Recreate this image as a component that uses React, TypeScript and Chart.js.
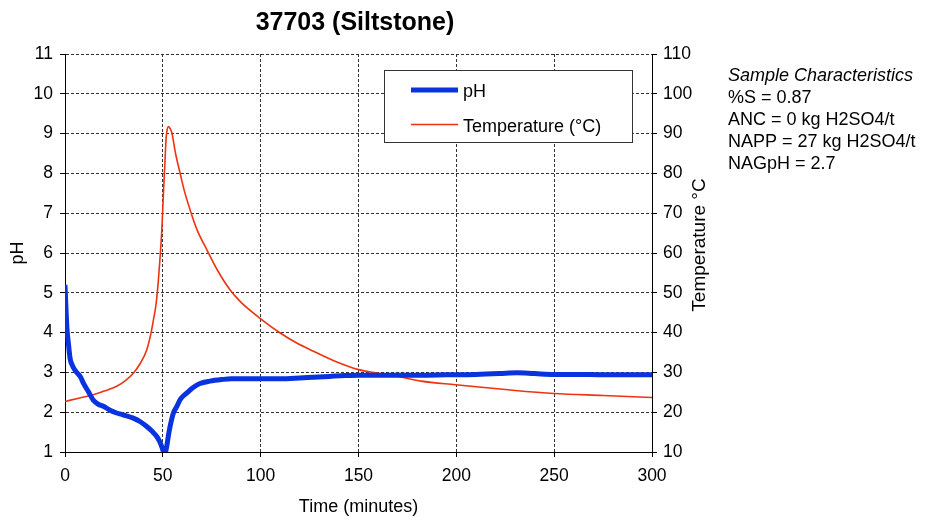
import { useEffect, useRef } from 'react';
import { Chart, registerables } from 'chart.js';

Chart.register(...registerables);

const FONT = "'Liberation Sans', Arial, sans-serif";

const chartTitle = '37703 (Siltstone)';
const xAxisTitle = 'Time (minutes)';
const leftAxisTitle = 'pH';
const rightAxisTitle = 'Temperature °C';
const phSeriesLabel = 'pH';
const tempSeriesLabel = 'Temperature (°C)';
const sampleHeading = 'Sample Characteristics';
const sampleLines = ['%S = 0.87', 'ANC = 0 kg H2SO4/t', 'NAPP = 27 kg H2SO4/t', 'NAGpH = 2.7'];

// pH series (time in minutes, pH)
const phTime = [0, 0.5, 1, 1.8, 2.6, 4, 6, 8, 9.4, 11.9, 14.5, 17, 19.6, 23, 26.4, 30, 34.9, 38.5, 41.8, 44.5, 46.9, 48.3, 49.4, 50.2, 50.7, 51.3, 52, 52.8, 53.7, 55.4, 57.1, 59, 62.2, 65.5, 69, 74, 80, 85, 90, 100, 110, 120, 127, 135, 143, 150, 160, 170, 182, 195, 210, 222, 231, 240, 250, 262, 275, 288, 300];
const phValues = [5.2, 4.6, 4.1, 3.7, 3.35, 3.15, 3.0, 2.88, 2.73, 2.52, 2.3, 2.2, 2.15, 2.05, 1.98, 1.93, 1.85, 1.76, 1.64, 1.52, 1.39, 1.27, 1.14, 1.02, 0.95, 0.98, 1.14, 1.4, 1.64, 1.98, 2.14, 2.33, 2.48, 2.62, 2.72, 2.78, 2.82, 2.84, 2.84, 2.84, 2.84, 2.86, 2.88, 2.9, 2.92, 2.93, 2.93, 2.93, 2.93, 2.94, 2.95, 2.97, 2.99, 2.97, 2.95, 2.95, 2.94, 2.94, 2.94];

// Temperature series (time in minutes, °C)
const tempTime = [0, 7, 14.5, 20, 26.4, 31, 34.9, 38.5, 41.8, 44, 45.2, 46.5, 47.7, 48.6, 49.5, 50.3, 51, 51.7, 52.3, 52.9, 53.6, 54.6, 56.5, 58.8, 61, 63.9, 67.5, 72.5, 78, 84.4, 90, 99.7, 110, 118, 127, 138, 150, 160, 171, 182, 199.5, 225, 250, 275, 300];
const tempValues = [22.7, 23.5, 24.4, 25.3, 26.5, 28, 29.8, 32.3, 35.7, 40, 43.2, 47, 53, 59, 66, 75, 82, 89, 91.2, 91.8, 91.4, 90.2, 85, 80.1, 75.6, 70.9, 65.8, 60.8, 55.6, 50.7, 47.6, 43.6, 39.9, 37.5, 35.3, 32.8, 30.7, 29.8, 28.9, 27.8, 26.9, 25.7, 24.7, 24.2, 23.7];

const xTicks = [0, 50, 100, 150, 200, 250, 300];
const phRange = [1, 11];
const tempRange = [10, 110];

const BLUE = '#0a33e0';
const RED = '#ee3311';

const overlayPlugin = {
  id: 'overlay',
  afterDraw(chart: any) {
    const ctx = chart.ctx as CanvasRenderingContext2D;
    ctx.save();
    // Title
    ctx.fillStyle = '#000';
    ctx.font = `bold 25px ${FONT}`;
    ctx.textAlign = 'center';
    ctx.textBaseline = 'alphabetic';
    ctx.fillText(chartTitle, 355, 29.5);

    // Legend box
    ctx.fillStyle = '#fff';
    ctx.fillRect(384, 70, 248, 72);
    ctx.strokeStyle = '#333';
    ctx.lineWidth = 1;
    ctx.strokeRect(384.5, 70.5, 248, 72);
    ctx.lineCap = 'butt';
    ctx.strokeStyle = BLUE;
    ctx.lineWidth = 5;
    ctx.beginPath();
    ctx.moveTo(411, 90);
    ctx.lineTo(458, 90);
    ctx.stroke();
    ctx.strokeStyle = RED;
    ctx.lineWidth = 1.5;
    ctx.beginPath();
    ctx.moveTo(411, 124.5);
    ctx.lineTo(458, 124.5);
    ctx.stroke();
    ctx.fillStyle = '#000';
    ctx.font = `18px ${FONT}`;
    ctx.textAlign = 'left';
    ctx.fillText(phSeriesLabel, 463, 97);
    ctx.fillText(tempSeriesLabel, 463, 132);

    // Sample characteristics
    ctx.font = `italic 18px ${FONT}`;
    ctx.fillText(sampleHeading, 728, 80.5);
    ctx.font = `18px ${FONT}`;
    sampleLines.forEach((t, i) => ctx.fillText(t, 728, 103 + i * 22));

    // Right axis title (reads bottom to top)
    ctx.font = `19px ${FONT}`;
    ctx.translate(700, 245);
    ctx.rotate(-Math.PI / 2);
    ctx.textAlign = 'center';
    ctx.textBaseline = 'middle';
    ctx.fillText(rightAxisTitle, 0, 0);
    ctx.restore();
  },
};

export default function App() {
  const ref = useRef<HTMLCanvasElement | null>(null);
  useEffect(() => {
    if (!ref.current) return;
    const phData = phTime.map((x, i) => ({ x, y: phValues[i] }));
    const tempData = tempTime.map((x, i) => ({ x, y: tempValues[i] }));
    const tickFont = { family: FONT, size: 17.5 };
    const gridOpts = {
      color: '#333',
      tickBorderDash: [],
      tickColor: '#000',
      tickLength: 5,
    } as any;
    const chart = new Chart(ref.current, {
      type: 'line',
      data: {
        datasets: [
          {
            label: tempSeriesLabel,
            data: tempData,
            yAxisID: 'yT',
            borderColor: RED,
            backgroundColor: RED,
            borderWidth: 1.6,
            pointRadius: 0,
            cubicInterpolationMode: 'monotone',
            order: 2,
          },
          {
            label: phSeriesLabel,
            data: phData,
            yAxisID: 'y',
            borderColor: BLUE,
            backgroundColor: BLUE,
            borderWidth: 5,
            pointRadius: 0,
            cubicInterpolationMode: 'monotone',
            order: 1,
          },
        ],
      },
      options: {
        animation: false,
        responsive: false,
        events: [],
        layout: { padding: { top: 54, right: 214, bottom: 0, left: 0 } },
        plugins: { legend: { display: false }, tooltip: { enabled: false }, title: { display: false } },
        scales: {
          x: {
            type: 'linear',
            min: 0,
            max: 300,
            afterBuildTicks: (s: any) => { s.ticks = xTicks.map((v) => ({ value: v })); },
            afterFit: (s: any) => { s.height = 69; },
            ticks: { font: tickFont, color: '#000', padding: 9, maxRotation: 0 },
            grid: gridOpts,
            border: { color: '#000', width: 1, dash: [3, 2] } as any,
            title: { display: true, text: xAxisTitle, font: { family: FONT, size: 18 }, color: '#000', padding: { top: 0, bottom: 3 } },
          },
          y: {
            type: 'linear',
            position: 'left',
            min: phRange[0],
            max: phRange[1],
            ticks: { stepSize: 1, font: tickFont, color: '#000', padding: 7 },
            afterFit: (s: any) => { s.width = 65; },
            grid: gridOpts,
            border: { color: '#000', width: 1, dash: [3, 2] } as any,
            title: { display: true, text: leftAxisTitle, font: { family: FONT, size: 18 }, color: '#000', padding: { top: 7, bottom: 0 } },
          },
          yT: {
            type: 'linear',
            position: 'right',
            min: tempRange[0],
            max: tempRange[1],
            ticks: { stepSize: 10, font: tickFont, color: '#000', padding: 6 },
            afterFit: (s: any) => { s.width = 60; },
            grid: { drawOnChartArea: false, tickColor: '#000', tickLength: 5 },
            border: { color: '#000', width: 1 },
          },
        },
      } as any,
      plugins: [overlayPlugin],
    });
    return () => chart.destroy();
  }, []);
  return (
    <div style={{ position: 'absolute', left: 0, top: 0, width: 926, height: 521, background: '#fff' }}>
      <canvas ref={ref} width={926} height={521} style={{ display: 'block', width: 926, height: 521 }} />
    </div>
  );
}
